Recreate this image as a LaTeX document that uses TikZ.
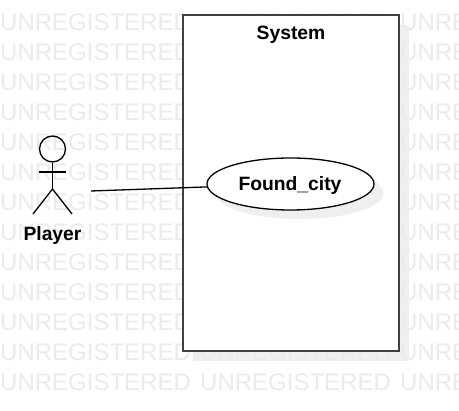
\documentclass[tikz,border=0pt]{standalone}
\usetikzlibrary{shapes.geometric}
\usepackage{fontspec}
\setmainfont{Liberation Sans}
\definecolor{wm}{HTML}{EBEBEB}
\definecolor{shadowc}{HTML}{EFEFEF}
\definecolor{framec}{HTML}{404040}
\tikzset{
  wmtext/.style={inner sep=0pt,anchor=base west,text=wm,font=\fontsize{24}{24}\selectfont},
  lbl/.style={inner sep=0pt,font=\fontsize{19.3}{21}\selectfont\bfseries},
  limb/.style={draw=black,line width=1.3pt},
  shadowfill/.style={fill=shadowc,draw=none}
}
\begin{document}
\begin{tikzpicture}[x=1pt,y=-1pt]
\useasboundingbox (0,0) rectangle (459,411);
\fill[white] (0,0) rectangle (459,411);
% shadow of the frame
\path[shadowfill] (193,25) rectangle (409,361);
% watermark
\begin{scope}
\clip (0,0) rectangle (459,411);
\foreach \r in {0,...,12}{
  \foreach \c in {0,1,2}{
    \node[wmtext] (wm\r-\c) at ({\c*200},{31+\r*30}) {UNREGISTERED};
  }
}
\end{scope}
% system frame
\node[draw=framec,fill=white,line width=1.7pt,minimum width=216pt,minimum height=336pt,inner sep=0pt] (system) at (291,183) {};
\node[lbl] (systemlabel) at (291,34.5) {System};
% use case
\fill[shadowc] (299.5,193) ellipse [x radius=84,y radius=26];
\node[draw=black,fill=white,ellipse,line width=1.3pt,minimum width=167pt,minimum height=52pt,inner sep=0pt] (usecase) at (290.5,184) {};
\node[lbl] (usecaselabel) at (290,185.5) {Found\_city};
% actor
\node[draw=black,circle,line width=1.3pt,minimum size=26pt,inner sep=0pt] (head) at (52.5,149) {};
\coordinate (hip) at (52.5,189);
\coordinate (armL) at (39,172);
\coordinate (armR) at (66,172);
\coordinate (legL) at (33,214);
\coordinate (legR) at (72,214);
\draw[limb] (head.south) -- (hip);
\draw[limb] (armL) -- (armR);
\draw[limb] (legL) -- (hip) -- (legR);
\node[lbl] (player) at (52.5,235.5) {Player};
% association
\coordinate (assocstart) at (91,191);
\draw[black,line width=1.3pt] (assocstart) -- (usecase.182);
\end{tikzpicture}
\end{document}
